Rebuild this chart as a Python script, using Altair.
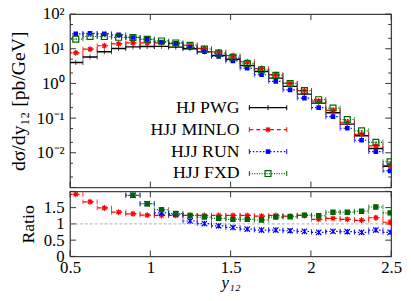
import math
import altair as alt
import pandas as pd

FONT = "Liberation Serif"
W, H1, H2 = 326, 176, 66

# ---------------- data ----------------
names = ["HJ PWG", "HJJ MINLO", "HJJ RUN", "HJJ FXD"]
colors = ["#000000", "#ff0000", "#0000ff", "#006400"]
dashes = [[1, 0], [4, 3], [1.5, 2], [1, 1.5]]

edges = [0.491, 0.580, 0.669, 0.758, 0.847, 0.936, 1.025, 1.114, 1.203, 1.292,
         1.381, 1.470, 1.559, 1.648, 1.737, 1.826, 1.915, 2.004, 2.093, 2.182,
         2.271, 2.360, 2.449, 2.538]

pwg = [4.0, 5.8, 8.2, 10.2, 11.3, 11.6, 11.7, 11.1, 10.0, 8.1, 6.4, 5.0, 3.3,
       2.2, 1.42, 0.82, 0.49, 0.27, 0.143, 0.067, 0.031, 0.0133, 0.0041]
minlo = [7.6, 9.7, 12.2, 13.9, 14.8, 14.7, 14.7, 14.0, 12.6, 10.2, 8.1, 6.3, 4.2,
         2.7, 1.79, 1.02, 0.62, 0.31, 0.167, 0.076, 0.034, 0.0158, 0.0043]
run = [26.8, 27.8, 27.1, 25.2, 21.2, 18.8, 15.7, 14.4, 10.9, 8.2, 6.0, 4.45, 2.77,
       1.78, 1.15, 0.65, 0.377, 0.20, 0.110, 0.051, 0.023, 0.0108, 0.0030]
fxd = [19.0, 22.6, 22.5, 21.4, 21.2, 18.8, 16.8, 14.7, 12.6, 9.8, 7.5, 5.7, 3.76,
       2.46, 1.72, 1.0, 0.62, 0.34, 0.195, 0.091, 0.043, 0.020, 0.0055]

rel_pwg = [0.03, 0.02, 0.02, 0.02, 0.02, 0.02, 0.02, 0.02, 0.02, 0.02, 0.02, 0.02,
           0.02, 0.02, 0.02, 0.03, 0.03, 0.03, 0.04, 0.04, 0.05, 0.06, 0.08]
rel_minlo = [0.03, 0.03, 0.02, 0.02, 0.02, 0.02, 0.02, 0.02, 0.02, 0.02, 0.02, 0.02,
             0.02, 0.02, 0.03, 0.03, 0.03, 0.03, 0.04, 0.05, 0.05, 0.07, 0.08]
rel_run = [0.02, 0.02, 0.02, 0.02, 0.02, 0.02, 0.02, 0.02, 0.02, 0.02, 0.02, 0.02,
           0.02, 0.02, 0.02, 0.02, 0.03, 0.03, 0.03, 0.03, 0.04, 0.05, 0.06]
rel_fxd = [0.03, 0.03, 0.03, 0.03, 0.03, 0.03, 0.03, 0.03, 0.03, 0.03, 0.03, 0.03,
           0.03, 0.03, 0.03, 0.03, 0.03, 0.04, 0.04, 0.04, 0.05, 0.06, 0.07]

r_minlo = [1.91, 1.68, 1.49, 1.36, 1.31, 1.27, 1.26, 1.26, 1.26, 1.26, 1.26, 1.26,
           1.26, 1.24, 1.26, 1.24, 1.26, 1.14, 1.17, 1.14, 1.11, 1.19, 1.05]
r_run = [6.7, 4.8, 3.3, 2.47, 1.88, 1.62, 1.34, 1.30, 1.09, 1.01, 0.94, 0.89,
         0.84, 0.81, 0.81, 0.79, 0.77, 0.74, 0.77, 0.76, 0.74, 0.81, 0.74]
r_fxd = [4.75, 3.9, 2.75, 2.1, 1.88, 1.62, 1.44, 1.32, 1.26, 1.21, 1.17, 1.14,
         1.14, 1.12, 1.21, 1.22, 1.27, 1.25, 1.36, 1.36, 1.39, 1.52, 1.34]

e_minlo = [0.04, 0.03, 0.03, 0.03, 0.03, 0.03, 0.03, 0.03, 0.03, 0.03, 0.03, 0.03,
           0.03, 0.03, 0.03, 0.04, 0.04, 0.04, 0.04, 0.05, 0.06, 0.08, 0.09]
e_run = [0.10, 0.08, 0.06, 0.05, 0.05, 0.04, 0.04, 0.04, 0.03, 0.03, 0.03, 0.03,
         0.03, 0.03, 0.03, 0.03, 0.03, 0.03, 0.03, 0.03, 0.04, 0.05, 0.05]
e_fxd = [0.10, 0.08, 0.06, 0.05, 0.06, 0.05, 0.05, 0.05, 0.04, 0.04, 0.04, 0.04,
         0.04, 0.04, 0.04, 0.04, 0.04, 0.05, 0.05, 0.05, 0.06, 0.08, 0.08]

top_tick_vals = [0.001, 0.01, 0.1, 1, 10, 100]
top_label_vals = [0.01, 0.1, 1, 10, 100]
top_label_text = ["10⁻²", "10⁻¹", "10⁰", "10¹", "10²"]
top_minor_vals = [0.002, 0.005, 0.02, 0.05, 0.2, 0.5, 2, 5, 20, 50]
ratio_tick_vals = [0, 0.5, 1, 1.5, 2]
ratio_label_vals = [0, 0.5, 1, 1.5]
x_tick_vals = [0.5, 1, 1.5, 2, 2.5]

# ---------------- helpers ----------------
x_scale = alt.Scale(domain=[0.5, 2.5], nice=False, zero=False)
yt_scale = alt.Scale(type="log", domain=[0.001, 100], nice=False)
yr_scale = alt.Scale(domain=[0, 2], nice=False, zero=False)

expr = "''"
for v, t in zip(top_label_vals, top_label_text):
    expr = f"(abs(log(datum.value)/LN10 - ({math.log10(v)})) < 0.01 ? '{t}' : {expr})"

top_yaxis = alt.Axis(values=top_label_vals, labelExpr=expr, ticks=False, domain=False,
                     grid=False, labelOverlap=False, title="dσ/dy₁₂ [pb/GeV]",
                     titleFontSize=20, labelPadding=6, titlePadding=8)
ratio_yaxis = alt.Axis(values=ratio_label_vals, labelExpr="toString(datum.value)", ticks=False,
                       domain=False, grid=False, labelOverlap=False, title="Ratio",
                       labelPadding=6, titlePadding=6)
ratio_xaxis = alt.Axis(values=x_tick_vals, labelExpr="toString(datum.value)", ticks=False,
                       domain=False, grid=False, labelOverlap=False, title="y₁₂",
                       titleFontStyle="italic", titleFontSize=17,
                       labelFlush=False, labelPadding=3, titlePadding=0)


def XT(f):
    return alt.X(f, type="quantitative", scale=x_scale, axis=None)


def XR(f):
    return alt.X(f, type="quantitative", scale=x_scale, axis=ratio_xaxis)


def YT(f):
    return alt.Y(f, type="quantitative", scale=yt_scale, axis=top_yaxis)


def YR(f):
    return alt.Y(f, type="quantitative", scale=yr_scale, axis=ratio_yaxis)


def series_df(vals, rel):
    rows = []
    for k, v in enumerate(vals):
        lo, hi = edges[k], edges[k + 1]
        rows.append(dict(lo=lo, hi=hi, c=(lo + hi) / 2, v=v,
                         vlo=v * (1 - rel[k]), vhi=v * (1 + rel[k])))
    return pd.DataFrame(rows)


def ratio_df(vals, err):
    rows = []
    for k, v in enumerate(vals):
        lo, hi = edges[k], edges[k + 1]
        rows.append(dict(lo=lo, hi=hi, c=(lo + hi) / 2, v=v, vlo=v - err[k], vhi=v + err[k]))
    return pd.DataFrame(rows)


ASTER = "M-1,0L1,0M0,-1L0,1M-0.7,-0.7L0.7,0.7M-0.7,0.7L0.7,-0.7"
XCROSS = "M-1,-1L1,1M-1,1L1,-1M0,-1L0,1"

top_markers = [None,
               dict(shape=ASTER, filled=False, size=36, strokeWidth=1.2),
               dict(shape="square", filled=True, size=22),
               dict(shape="square", filled=False, size=36, strokeWidth=1.2)]
ratio_markers = [None,
                 dict(shape=ASTER, filled=False, size=36, strokeWidth=1.2),
                 dict(shape=XCROSS, filled=False, size=30, strokeWidth=1.2),
                 dict(shape="square", filled=True, size=30)]


def series_layers(df, color, dash, marker, X, Y, sw):
    base = alt.Chart(df)
    layers = [
        base.mark_rule(clip=True, color=color, strokeDash=dash, strokeWidth=sw).encode(
            x=X("lo"), x2=alt.X2("hi"), y=Y("v")),
        base.mark_tick(clip=True, orient="vertical", size=5, thickness=1, color=color).encode(
            x=X("lo"), y=Y("v")),
        base.mark_tick(clip=True, orient="vertical", size=5, thickness=1, color=color).encode(
            x=X("hi"), y=Y("v")),
        base.mark_rule(clip=True, color=color, strokeWidth=1).encode(
            x=X("c"), y=Y("vlo"), y2=alt.Y2("vhi")),
    ]
    if marker is None:
        layers.append(base.mark_tick(clip=True, orient="vertical", size=5, thickness=1,
                                     color=color).encode(x=X("c"), y=Y("v")))
    else:
        layers.append(base.mark_point(clip=True, opacity=1, color=color, **marker).encode(
            x=X("c"), y=Y("v")))
    return layers


def tick_layers(yvals, minor, Y, height, xaxis_fn):
    out = []
    ydf = pd.DataFrame({"t": yvals})
    out.append(alt.Chart(ydf).mark_rule(color="#333", strokeWidth=1).encode(
        y=Y("t"), x=alt.value(0), x2=alt.value(6)))
    out.append(alt.Chart(ydf).mark_rule(color="#333", strokeWidth=1).encode(
        y=Y("t"), x=alt.value(W - 6), x2=alt.value(W)))
    if minor:
        mdf = pd.DataFrame({"t": minor})
        out.append(alt.Chart(mdf).mark_rule(color="#333", strokeWidth=1).encode(
            y=Y("t"), x=alt.value(0), x2=alt.value(3)))
        out.append(alt.Chart(mdf).mark_rule(color="#333", strokeWidth=1).encode(
            y=Y("t"), x=alt.value(W - 3), x2=alt.value(W)))
    xdf = pd.DataFrame({"t": x_tick_vals})
    out.append(alt.Chart(xdf).mark_rule(color="#333", strokeWidth=1).encode(
        x=xaxis_fn("t"), y=alt.value(height - 6), y2=alt.value(height)))
    out.append(alt.Chart(xdf).mark_rule(color="#333", strokeWidth=1).encode(
        x=xaxis_fn("t"), y=alt.value(0), y2=alt.value(6)))
    return out


# ---------------- top panel ----------------
top_vals = [pwg, minlo, run, fxd]
top_rels = [rel_pwg, rel_minlo, rel_run, rel_fxd]
widths = [1.4, 1.2, 1.2, 1.2]

top_layers = tick_layers(top_tick_vals, top_minor_vals, YT, H1, XT)
for i in range(4):
    df = series_df(top_vals[i], top_rels[i])
    top_layers += series_layers(df, colors[i], dashes[i], top_markers[i], XT, YT, widths[i])

# legend (inside top panel)
one = pd.DataFrame({"a": [0]})
for i, name in enumerate(names):
    yy = 95 + 22.3 * i
    lg = alt.Chart(one)
    top_layers.append(lg.mark_text(align="right", baseline="middle", font=FONT, fontSize=18,
                                   color="black", text=name).encode(
        x=alt.value(172), y=alt.value(yy)))
    top_layers.append(lg.mark_rule(color=colors[i], strokeDash=dashes[i], strokeWidth=widths[i]).encode(
        x=alt.value(182), x2=alt.value(220), y=alt.value(yy)))
    for xx in (182, 220):
        top_layers.append(lg.mark_rule(color=colors[i], strokeWidth=1).encode(
            x=alt.value(xx), y=alt.value(yy - 2.5), y2=alt.value(yy + 2.5)))
    if top_markers[i] is None:
        top_layers.append(lg.mark_rule(color=colors[i], strokeWidth=1).encode(
            x=alt.value(201), y=alt.value(yy - 2.5), y2=alt.value(yy + 2.5)))
    else:
        top_layers.append(lg.mark_point(opacity=1, color=colors[i], **top_markers[i]).encode(
            x=alt.value(201), y=alt.value(yy)))

top = alt.layer(*top_layers).properties(width=W, height=H1)

# ---------------- ratio panel ----------------
r_vals = [None, r_minlo, r_run, r_fxd]
r_errs = [None, e_minlo, e_run, e_fxd]

ratio_layers = tick_layers(ratio_tick_vals, None, YR, H2, XR)
ratio_layers.append(alt.Chart(pd.DataFrame({"t": [1]})).mark_rule(
    color="#999", strokeDash=[3, 2], strokeWidth=0.8).encode(
    y=YR("t"), x=alt.value(0), x2=alt.value(W)))
for i in (1, 2, 3):
    df = ratio_df(r_vals[i], r_errs[i])
    ratio_layers += series_layers(df, colors[i], dashes[i], ratio_markers[i], XR, YR, widths[i])

ratio = alt.layer(*ratio_layers).properties(width=W, height=H2)

chart = alt.vconcat(top, ratio, spacing=0).properties(
    padding={"left": 0, "top": -6, "right": 0, "bottom": 0}
).configure_view(
    stroke="#444", strokeWidth=1.3
).configure_axis(
    labelFont=FONT, labelFontSize=17, labelColor="black",
    titleFont=FONT, titleFontSize=18, titleFontWeight="normal", titleColor="black"
)

chart.save("out.html", embed_options={"renderer": "svg", "actions": False})
